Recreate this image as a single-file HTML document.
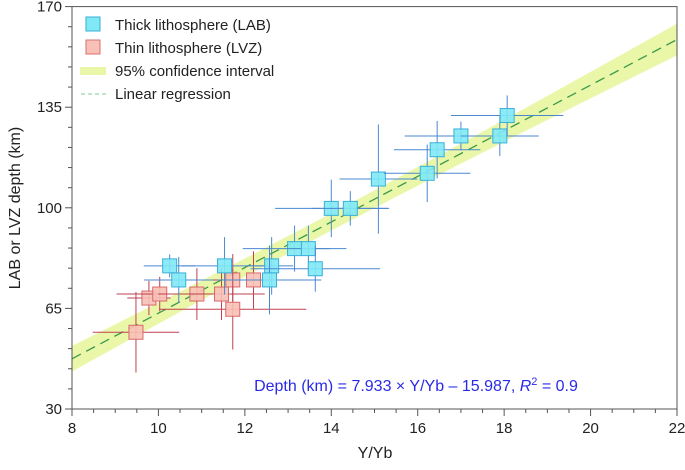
<!DOCTYPE html>
<html><head><meta charset="utf-8"><style>
body{margin:0;background:#fff;font-family:"Liberation Sans",sans-serif;}
svg text{font-family:"Liberation Sans",sans-serif;}
</style></head><body>
<svg id="chart" width="685" height="465" xmlns="http://www.w3.org/2000/svg">
<g id="band"></g>
<g id="line"></g>
<g id="pts"></g>
<g id="axes"></g>
<g>
<rect x="86" y="17" width="14" height="14" fill="#7fe9f5" stroke="#3ab0d8"/>
<text x="115" y="30" font-size="15" fill="#222">Thick lithosphere (LAB)</text>
<rect x="86" y="40" width="14" height="14" fill="#f8c0b6" stroke="#d87070"/>
<text x="115" y="53" font-size="15" fill="#222">Thin lithosphere (LVZ)</text>
<rect x="80" y="67" width="26" height="8" fill="#eaf7a8"/>
<text x="115" y="76" font-size="15" fill="#222">95% confidence interval</text>
<line x1="81" y1="94" x2="106" y2="94" stroke="#7ccc9c" stroke-dasharray="4,3"/>
<text x="115" y="99" font-size="15" fill="#222">Linear regression</text>
</g>
<text x="416" y="391" font-size="16" fill="#2a2ae6" text-anchor="middle">Depth (km) = 7.933 × Y/Yb – 15.987, <tspan font-style="italic">R</tspan><tspan dy="-6" font-size="11">2</tspan><tspan dy="6"> = 0.9</tspan></text>
<text x="375" y="458" font-size="16" fill="#222" text-anchor="middle">Y/Yb</text>
<text transform="translate(20,208) rotate(-90)" font-size="16" fill="#222" text-anchor="middle">LAB or LVZ depth (km)</text>
</svg>
<script>
const xTicks=[8,10,12,14,16,18,20,22];
const yTicks=[30,65,100,135,170];
const thickX=[10.26,10.47,11.53,12.62,12.57,13.15,13.47,13.63,14.0,14.44,15.09,16.22,16.45,17.0,17.9,18.07];
const thickY=[79.8,74.9,79.8,79.8,74.9,85.8,85.8,78.8,99.8,99.8,110,112,120.2,125,125,132.1];
const thickXErr=[0.6,0.8,1.0,0.5,1.2,1.2,0.5,1.5,1.3,0.9,0.9,1.0,1.0,1.3,0.9,1.3];
const thickYErr=[4,8,10,10,12,8,8,8,10,6,19,10,10,5,7,7];
const thinX=[9.78,10.03,10.89,11.46,11.72,12.2,11.72,9.48];
const thinY=[68.6,70,70,70,74.9,74.9,64.7,56.7];
const thinXErr=[0.5,1.0,0.9,1.0,0.8,1.0,1.7,1.0];
const thinYErr=[6,6,9,9,9,10,14,14];
const slope=7.933, intercept=-15.987;
const X0=72,X1=677,Y0=409,Y1=6.6;
const sx=v=>X0+(v-8)/(22-8)*(X1-X0);
const sy=v=>Y0-(v-30)/(170-30)*(Y0-Y1);
const NS="http://www.w3.org/2000/svg";
function mk(tag,attrs,parent){const e=document.createElementNS(NS,tag);for(const k in attrs)e.setAttribute(k,attrs[k]);parent.appendChild(e);return e;}
const band=document.getElementById('band'),line=document.getElementById('line'),pts=document.getElementById('pts'),axes=document.getElementById('axes');
let up=[],dn=[];
for(let x=8;x<=22.001;x+=0.25){const c=slope*x+intercept;const w=Math.sqrt(9+0.32*(x-13.8)*(x-13.8));up.push(sx(x)+','+sy(c+w));dn.unshift(sx(x)+','+sy(c-w));}
const bp=mk('polygon',{points:up.concat(dn).join(' '),fill:'#eaf7a8'},band);


const rl=mk('line',{x1:sx(8),y1:sy(slope*8+intercept),x2:sx(22),y2:sy(slope*22+intercept),stroke:'#3a9a4a','stroke-width':1.3,'stroke-dasharray':'10,6'},line);


function drawSeries(xs,ys,xe,ye,fill,stroke,ecol,name){
  for(let i=0;i<xs.length;i++){
    const g=mk('g',{},pts);
    
    
    mk('line',{x1:sx(xs[i]-xe[i]),x2:sx(xs[i]+xe[i]),y1:sy(ys[i]),y2:sy(ys[i]),stroke:ecol,'stroke-width':1},g);
    mk('line',{x1:sx(xs[i]),x2:sx(xs[i]),y1:sy(ys[i]-ye[i]),y2:sy(ys[i]+ye[i]),stroke:ecol,'stroke-width':1},g);
    mk('rect',{x:sx(xs[i])-7,y:sy(ys[i])-7,width:14,height:14,fill:fill,stroke:stroke,'stroke-width':1,'fill-opacity':0.9},g);
  }
}
drawSeries(thinX,thinY,thinXErr,thinYErr,'#f8c0b6','#d86a6a','#c04050','thin');
drawSeries(thickX,thickY,thickXErr,thickYErr,'#7fe9f5','#3ab0d8','#4a88d0','thick');
mk('rect',{x:X0,y:Y1,width:X1-X0,height:Y0-Y1,fill:'none',stroke:'#555','stroke-width':1},axes);
for(let v=8;v<=22.001;v+=0.5){const major=Math.abs(v-Math.round(v/2)*2)<1e-6;mk('line',{x1:sx(v),x2:sx(v),y1:Y0,y2:Y0+(major?7:4),stroke:'#555'},axes);}
for(let v=30;v<=170;v+=7){const major=(v-30)%35===0;mk('line',{x1:X0,x2:X0-(major?7:4),y1:sy(v),y2:sy(v),stroke:'#555'},axes);}
xTicks.forEach(v=>{const t=mk('text',{x:sx(v),y:Y0+24,'font-size':15,'text-anchor':'middle',fill:'#222'},axes);t.textContent=v;

});
yTicks.forEach(v=>{const t=mk('text',{x:X0-10,y:sy(v)+5,'font-size':15,'text-anchor':'end',fill:'#222'},axes);t.textContent=v;

});
</script>
</body></html>
